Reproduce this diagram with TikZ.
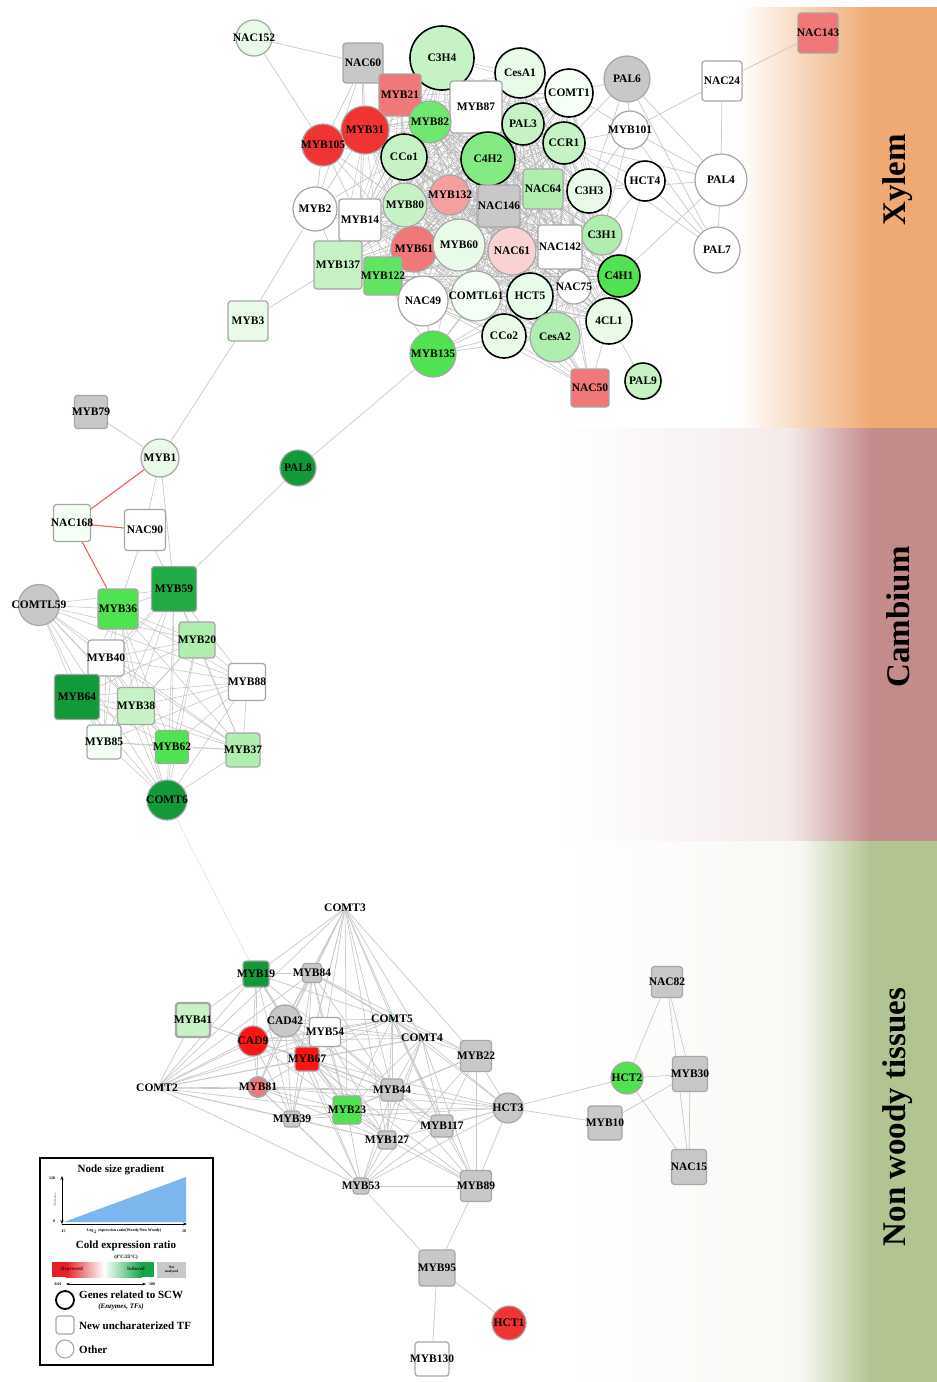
\documentclass[tikz,border=0pt]{standalone}
\usepackage{fontspec}
\setmainfont{Liberation Serif}
\usetikzlibrary{backgrounds,arrows.meta}
\definecolor{lgA}{RGB}{232,250,232}
\definecolor{lgB}{RGB}{198,242,198}
\definecolor{lgC}{RGB}{176,238,176}
\definecolor{mgA}{RGB}{110,232,110}
\definecolor{mgB}{RGB}{80,226,80}
\definecolor{dgA}{RGB}{17,153,58}
\definecolor{dgB}{RGB}{34,170,68}
\definecolor{rdA}{RGB}{240,52,52}
\definecolor{rdB}{RGB}{255,20,20}
\definecolor{pkA}{RGB}{240,120,120}
\definecolor{pkB}{RGB}{244,160,160}
\definecolor{pkC}{RGB}{249,210,210}
\definecolor{gyA}{RGB}{200,200,200}
\definecolor{wgA}{RGB}{246,255,246}
\definecolor{xyc}{RGB}{238,170,114}
\definecolor{cac}{RGB}{196,139,139}
\definecolor{nwc}{RGB}{178,196,144}
\definecolor{legblue}{RGB}{125,182,236}
\definecolor{redge}{RGB}{240,96,96}
\definecolor{barred}{RGB}{228,32,40}
\definecolor{bargreen}{RGB}{22,164,72}
\newcommand\nd[6]{\node[#1,minimum size=#4pt,fill=#5,label={[lab]center:#6}] (#2) at (#3) {};}
\tikzset{
 lab/.style={font=\bfseries\fontsize{11.5}{12}\selectfont, inner sep=0pt, text=black},
 cg/.style={circle, draw=gray!70, line width=1.2pt, inner sep=0pt},
 cb/.style={circle, draw=black, line width=1.6pt, inner sep=0pt},
 sg/.style={rectangle, rounded corners=3pt, draw=gray!70, line width=1.2pt, inner sep=0pt},
 pt/.style={circle, inner sep=0pt, minimum size=1pt},
 ed/.style={draw=gray!42, line width=0.7pt},
 ms/.style={draw=gray!58, line width=0.35pt},
 rd/.style={draw=redge, line width=1.1pt},
 band/.style={font=\bfseries\fontsize{33}{36}\selectfont, rotate=90, inner sep=0pt},
 tiny/.style={font=\bfseries\fontsize{4}{4.5}\selectfont, inner sep=0pt},
 leg/.style={font=\bfseries\fontsize{11}{12}\selectfont, inner sep=0pt},
}
\begin{document}
\begin{tikzpicture}[x=1pt,y=-1pt]
\useasboundingbox (0,0) rectangle (937,1382);
% ---------- nodes: Xylem ----------
\nd{cg}{NAC152}{254,38}{36}{lgA}{NAC152}
\nd{sg}{NAC60}{363,63}{40}{gyA}{NAC60}
\nd{cb}{C3H4}{442,58}{64}{lgB}{C3H4}
\nd{cb}{CesA1}{520,73}{50}{lgA}{CesA1}
\nd{cb}{COMT1}{569,93}{48}{wgA}{COMT1}
\nd{cg}{PAL6}{627,79}{46}{gyA}{PAL6}
\nd{sg}{NAC24}{722,81}{40}{white}{NAC24}
\nd{sg}{NAC143}{818,33}{40}{pkA}{NAC143}
\nd{sg}{MYB87}{476,107}{52}{white}{MYB87}
\nd{sg}{MYB21}{400,95}{42}{pkA}{MYB21}
\nd{cg}{MYB82}{430,122}{42}{mgA}{MYB82}
\nd{cg}{MYB31}{365,130}{48}{rdA}{MYB31}
\nd{cg}{MYB105}{323,145}{42}{rdA}{MYB105}
\nd{cb}{PAL3}{523,124}{42}{lgB}{PAL3}
\nd{cb}{CCR1}{564,143}{42}{lgB}{CCR1}
\nd{cg}{MYB101}{630,130}{38}{white}{MYB101}
\nd{cb}{CCo1}{404,157}{46}{lgB}{CCo1}
\nd{cb}{C4H2}{488,159}{54}{mgA!85!white}{C4H2}
\nd{cb}{HCT4}{645,181}{40}{white}{HCT4}
\nd{cg}{PAL4}{721,180}{52}{white}{PAL4}
\nd{sg}{NAC64}{543,189}{40}{lgC}{NAC64}
\nd{cb}{C3H3}{589,191}{44}{lgA}{C3H3}
\nd{cg}{MYB132}{450,195}{40}{pkB}{MYB132}
\nd{sg}{NAC146}{499,206}{42}{gyA}{NAC146}
\nd{cg}{MYB2}{315,209}{44}{white}{MYB2}
\nd{sg}{MYB14}{360,220}{42}{white}{MYB14}
\nd{cg}{MYB80}{405,205}{44}{lgB}{MYB80}
\nd{cg}{C3H1}{602,235}{40}{lgC}{C3H1}
\nd{cg}{PAL7}{717,250}{46}{white}{PAL7}
\nd{cg}{MYB61}{414,249}{46}{pkA}{MYB61}
\nd{cg}{MYB60}{459,245}{52}{lgA}{MYB60}
\nd{cg}{NAC61}{512,251}{48}{pkC}{NAC61}
\nd{sg}{NAC142}{560,247}{44}{white}{NAC142}
\nd{sg}{MYB137}{338,265}{48}{lgB}{MYB137}
\nd{sg}{MYB122}{383,276}{38}{mgB!90!white}{MYB122}
\nd{cb}{C4H1}{619,276}{42}{mgB}{C4H1}
\nd{cg}{NAC75}{574,287}{34}{white}{NAC75}
\nd{cg}{NAC49}{423,301}{50}{white}{NAC49}
\nd{cg}{COMTL61}{476,296}{50}{wgA}{COMTL61}
\nd{cb}{HCT5}{530,296}{46}{lgA}{HCT5}
\nd{cb}{CL41}{609,321}{46}{lgA}{4CL1}
\nd{cb}{CCo2}{504,336}{44}{lgA}{CCo2}
\nd{cg}{CesA2}{555,337}{50}{lgC}{CesA2}
\nd{sg}{MYB3}{248,321}{40}{lgA}{MYB3}
\nd{cg}{MYB135}{433,354}{46}{mgB}{MYB135}
\nd{sg}{NAC50}{590,388}{38}{pkA}{NAC50}
\nd{cb}{PAL9}{643,381}{36}{lgB}{PAL9}
% ---------- nodes: Cambium ----------
\nd{sg}{MYB79}{91,412}{33}{gyA}{MYB79}
\nd{cg}{MYB1}{160,458}{38}{lgA}{MYB1}
\nd{cg}{PAL8}{298,468}{36}{dgA}{PAL8}
\nd{sg}{NAC168}{72,523}{37}{wgA}{NAC168}
\nd{sg}{NAC90}{145,530}{41}{white}{NAC90}
\nd{sg}{MYB59}{174,589}{45}{dgB}{MYB59}
\nd{cg}{COMTL59}{39,605}{41}{gyA}{COMTL59}
\nd{sg}{MYB36}{118,609}{40}{mgB}{MYB36}
\nd{sg}{MYB20}{197,640}{36}{lgC}{MYB20}
\nd{sg}{MYB40}{106,658}{36}{white}{MYB40}
\nd{sg}{MYB88}{247,682}{37}{white}{MYB88}
\nd{sg}{MYB64}{77,697}{45}{dgA}{MYB64}
\nd{sg}{MYB38}{136,706}{37}{lgB}{MYB38}
\nd{sg}{MYB85}{104,742}{34}{wgA}{MYB85}
\nd{sg}{MYB62}{172,747}{33}{mgB}{MYB62}
\nd{sg}{MYB37}{243,750}{34}{lgC}{MYB37}
\nd{cg}{COMT6}{167,800}{40}{dgA}{COMT6}
% ---------- nodes: Non woody ----------
\node[pt,label={[lab]center:COMT3}] (COMT3) at (345,908) {};
\node[pt,label={[lab]center:COMT2}] (COMT2) at (157,1088) {};
\node[circle,inner sep=0pt,minimum size=4pt,fill=mgB,label={[lab]center:COMT5}] (COMT5) at (392,1019) {};
\node[pt,label={[lab]center:COMT4}] (COMT4) at (422,1038) {};
\nd{sg}{MYB19}{256,974}{26}{dgA}{MYB19}
\nd{sg}{MYB84}{312,973}{19}{gyA}{MYB84}
\node[sg,line width=2.2pt,minimum size=34pt,fill=lgB,label={[lab]center:MYB41}] (MYB41) at (193,1020) {};
\nd{cg}{CAD42}{285,1021}{32}{gyA}{CAD42}
\node[sg,minimum width=31pt,minimum height=29pt,fill=white,label={[lab]center:MYB54}] (MYB54) at (325,1032) {};
\nd{cg}{CAD9}{253,1041}{30}{rdB}{CAD9}
\nd{sg}{MYB67}{307,1059}{24}{rdB}{MYB67}
\node[cg,line width=2pt,minimum size=20pt,fill=pkA,label={[lab]center:MYB81}] (MYB81) at (258,1087) {};
\nd{sg}{MYB39}{292,1119}{16}{gyA}{MYB39}
\nd{sg}{MYB23}{347,1110}{28}{mgB}{MYB23}
\nd{sg}{MYB44}{392,1090}{22}{gyA}{MYB44}
\nd{sg}{MYB22}{476,1056}{31}{gyA}{MYB22}
\nd{cg}{HCT3}{508,1108}{30}{gyA}{HCT3}
\nd{sg}{MYB117}{442,1126}{22}{gyA}{MYB117}
\nd{sg}{MYB127}{387,1140}{18}{gyA}{MYB127}
\nd{sg}{MYB53}{361,1186}{16}{gyA}{MYB53}
\nd{sg}{MYB89}{476,1186}{31}{gyA}{MYB89}
\nd{sg}{MYB10}{605,1123}{34}{gyA}{MYB10}
\nd{cg}{HCT2}{627,1078}{32}{mgB}{HCT2}
\nd{sg}{NAC82}{667,982}{31}{gyA}{NAC82}
\nd{sg}{MYB30}{690,1074}{35}{gyA}{MYB30}
\nd{sg}{NAC15}{689,1167}{35}{gyA}{NAC15}
\nd{sg}{MYB95}{437,1268}{36}{gyA}{MYB95}
\nd{cg}{HCT1}{509,1323}{34}{rdA}{HCT1}
\nd{sg}{MYB130}{432,1359}{34}{white}{MYB130}
% ---------- background: bands and edges ----------
\begin{pgfonlayer}{background}
\fill[white] (0,0) rectangle (937,1382);
% Xylem band
\shade[left color=white,right color=xyc] (740,7) rectangle (872,428);
\fill[xyc] (871,7) rectangle (937,428);
% Cambium band
\shade[left color=white,right color=cac!18] (560,428) rectangle (790,841);
\shade[left color=cac!18,right color=cac] (789,428) rectangle (872,841);
\fill[cac] (871,428) rectangle (937,841);
% Non woody band
\shade[left color=white,right color=nwc!10] (560,841) rectangle (800,1382);
\shade[left color=nwc!10,right color=nwc] (799,841) rectangle (872,1382);
\fill[nwc] (871,841) rectangle (937,1382);
% Xylem dense mesh
\def\xcore{C3H4,MYB21,MYB87,MYB82,MYB31,CCo1,C4H2,PAL3,CCR1,CesA1,COMT1,NAC64,C3H3,MYB132,NAC146,MYB80,MYB14,C3H1,MYB61,MYB60,NAC61,NAC142,MYB122,C4H1,NAC75,NAC49,COMTL61,HCT5,CL41,CCo2,CesA2,MYB137}
\foreach \a [count=\i] in \xcore {
  \foreach \b [count=\j] in \xcore {
    \ifnum\j>\i \draw[ms] (\a) -- (\b); \fi
  }
}
\foreach \a/\b in {NAC152/NAC60,NAC152/MYB105,NAC60/MYB105,NAC60/MYB31,NAC60/MYB14,NAC60/MYB2,NAC60/MYB21,
  MYB2/MYB105,MYB2/MYB31,MYB2/MYB80,MYB2/MYB61,MYB2/MYB60,MYB2/CCo1,MYB14/MYB105,MYB105/CCo1,MYB105/MYB80,MYB105/MYB61,MYB105/MYB31,
  MYB3/MYB2,MYB3/MYB137,MYB3/MYB1,MYB137/MYB2,
  PAL8/MYB135,PAL8/MYB59,
  MYB135/NAC49,MYB135/COMTL61,MYB135/MYB60,MYB135/MYB61,MYB135/MYB122,MYB135/HCT5,MYB135/CCo2,MYB135/NAC61,MYB135/CesA2,MYB135/NAC75,
  NAC50/CesA2,NAC50/CCo2,NAC50/HCT5,NAC50/NAC75,NAC50/CL41,NAC50/NAC49,NAC50/COMTL61,NAC50/MYB60,NAC50/NAC61,NAC50/NAC142,
  PAL9/CL41,NAC143/NAC24,NAC24/MYB101,NAC24/PAL4,
  PAL6/MYB101,PAL6/PAL4,PAL6/PAL7,PAL6/CCR1,PAL6/COMT1,PAL6/C3H3,
  MYB101/CCR1,MYB101/C3H3,MYB101/PAL7,MYB101/PAL4,MYB101/COMT1,MYB101/C3H1,
  CCR1/HCT4,CCR1/PAL4,CCR1/PAL7,C3H3/PAL4,C3H3/HCT4,HCT4/C4H1,HCT4/C3H1,PAL4/C4H1,PAL4/PAL7,PAL7/HCT4}
  \draw[ed] (\a) -- (\b);
% Cambium
\foreach \a/\b in {MYB79/MYB1,MYB1/NAC90,MYB1/MYB59,NAC90/MYB36,NAC90/MYB59}
  \draw[ed] (\a) -- (\b);
\def\ccore{COMTL59,MYB36,MYB59,MYB20,MYB40,MYB88,MYB64,MYB38,MYB85,MYB62,MYB37,COMT6}
\foreach \a [count=\i] in \ccore {
  \foreach \b [count=\j] in \ccore {
    \ifnum\j>\i \draw[draw=gray!45,line width=0.55pt] (\a) -- (\b); \fi
  }
}
\draw[rd] (MYB1) -- (NAC168);
\draw[rd] (NAC168) -- (NAC90);
\draw[rd] (NAC168) -- (MYB36);
\draw[draw=gray!50,line width=0.6pt,densely dotted] (COMT6) -- (MYB19);
% Non woody
\foreach \a/\b in {COMT3/MYB19,COMT3/MYB84,COMT3/CAD42,COMT3/MYB54,COMT3/MYB67,COMT3/COMT5,COMT3/COMT4,COMT3/MYB44,COMT3/MYB23,COMT3/MYB127,COMT3/MYB117,COMT3/COMT2,COMT3/MYB81,COMT3/MYB39,COMT3/MYB22,
  COMT2/MYB19,COMT2/MYB84,COMT2/MYB41,COMT2/CAD42,COMT2/CAD9,COMT2/MYB54,COMT2/MYB67,COMT2/MYB81,COMT2/MYB39,COMT2/MYB23,COMT2/MYB44,COMT2/COMT5,COMT2/COMT4,COMT2/MYB127,COMT2/MYB53,
  MYB19/MYB84,MYB19/MYB41,MYB19/CAD42,MYB19/CAD9,MYB19/MYB54,MYB19/MYB67,MYB19/MYB81,MYB19/MYB39,MYB19/COMT5,MYB19/MYB23,
  MYB84/CAD42,MYB84/MYB54,MYB84/MYB67,MYB84/COMT5,MYB84/COMT4,MYB84/MYB81,MYB84/MYB39,MYB84/MYB23,MYB84/MYB44,MYB84/MYB22,
  MYB41/CAD9,MYB41/MYB67,
  CAD42/MYB54,CAD42/CAD9,CAD42/MYB67,CAD42/COMT5,CAD42/COMT4,CAD42/MYB81,CAD42/MYB39,CAD42/MYB23,CAD42/MYB44,CAD42/MYB127,CAD42/MYB53,
  MYB54/COMT5,MYB54/COMT4,MYB54/MYB67,MYB54/MYB44,MYB54/MYB23,MYB54/MYB117,MYB54/MYB127,
  CAD9/MYB67,CAD9/MYB54,CAD9/COMT5,CAD9/COMT4,CAD9/MYB81,CAD9/MYB39,CAD9/MYB23,CAD9/MYB44,
  MYB67/COMT4,MYB67/COMT5,MYB67/MYB81,MYB67/MYB39,MYB67/MYB23,MYB67/MYB44,MYB67/MYB117,MYB67/MYB127,MYB67/MYB53,MYB67/MYB89,MYB67/HCT3,
  MYB81/MYB39,MYB81/MYB23,MYB81/MYB44,MYB81/MYB127,MYB81/MYB53,MYB81/HCT3,
  COMT5/COMT4,COMT5/MYB44,COMT5/MYB22,COMT5/MYB23,COMT5/MYB117,COMT5/MYB127,COMT5/HCT3,COMT5/MYB89,
  COMT4/MYB22,COMT4/MYB44,COMT4/MYB23,COMT4/MYB117,COMT4/MYB127,COMT4/MYB53,COMT4/HCT3,COMT4/MYB89,
  MYB22/MYB44,MYB22/HCT3,MYB22/MYB89,MYB22/MYB117,MYB22/MYB53,MYB22/MYB23,
  MYB44/MYB23,MYB44/MYB127,MYB44/MYB117,MYB44/HCT3,MYB44/MYB89,MYB44/MYB53,
  MYB23/MYB39,MYB23/MYB127,MYB23/MYB117,MYB23/MYB53,MYB23/MYB89,MYB23/HCT3,
  MYB39/MYB127,MYB39/MYB53,MYB39/HCT3,MYB117/HCT3,MYB117/MYB89,MYB117/MYB53,
  MYB127/MYB53,MYB127/MYB89,MYB127/HCT3,MYB53/MYB89,MYB53/MYB95,MYB53/HCT3,MYB89/MYB95,MYB89/HCT3,
  HCT3/HCT2,HCT3/MYB10,MYB95/HCT1,MYB95/MYB130,HCT2/NAC82,HCT2/MYB30,HCT2/NAC15,MYB10/MYB30,NAC82/MYB30,NAC82/NAC15,MYB30/NAC15}
  \draw[ed] (\a) -- (\b);
\end{pgfonlayer}
% ---------- band labels ----------
\node[band] (lxy) at (898,180) {Xylem};
\node[band] (lca) at (898,617) {Cambium};
\node[band] (lnw) at (898,1117) {Non woody tissues};
% ---------- legend ----------
\node[draw=black,line width=1.3pt,minimum width=173pt,minimum height=207pt,inner sep=0pt] (legbox) at (126.5,1261.5) {};
\node[leg] (lgt1) at (121,1170) {Node size gradient};
\fill[legblue] (64,1222) -- (186,1222) -- (186,1177) -- cycle;
\draw[{Stealth[length=4pt]}-{Stealth[length=4pt]},line width=0.9pt] (62,1224) -- (62,1176);
\draw[-{Stealth[length=4pt]},line width=0.9pt] (62,1224) -- (187,1224);
\node[tiny] (l120) at (52,1178) {120};
\node[tiny] (l0) at (54,1221) {0};
\node[tiny,rotate=90,font=\fontsize{3.5}{4}\selectfont,text=brown!70!black] (lns) at (55,1200) {Node size};
\node[tiny] (lm15) at (63,1231) {-15};
\node[tiny] (llog) at (124,1231) {Log$_2$ expression ratio(Woody/Non Woody)};
\node[tiny] (l10) at (184,1231) {10};
\node[leg] (lgt2) at (126,1246) {Cold expression ratio};
\node[tiny,font=\bfseries\fontsize{5}{6}\selectfont] (ltemp) at (126,1257) {(4°C/25°C)};
\fill[barred] (52,1262) rectangle (66,1277);
\shade[left color=barred,right color=white] (66,1262) rectangle (104,1277);
\shade[left color=white,right color=bargreen] (104,1262) rectangle (142,1277);
\fill[bargreen] (141.5,1262) rectangle (154,1277);
\node[tiny,font=\bfseries\fontsize{5}{6}\selectfont,text=red!40!black] (lrep) at (72,1269) {Repressed};
\node[tiny,font=\bfseries\fontsize{5}{6}\selectfont,text=black!80!green] (lind) at (136,1269) {Induced};
\node[fill=gyA,minimum width=29pt,minimum height=16pt,inner sep=0pt,align=center,font=\bfseries\fontsize{3.5}{4.2}\selectfont] (lna) at (171.5,1270) {Not\\analyzed};
\draw[{Stealth[length=3.5pt]}-{Stealth[length=3.5pt]},line width=0.8pt] (66,1284) -- (146,1284);
\node[tiny] (l001) at (58,1284) {0.01};
\node[tiny] (l100) at (152,1284) {100};
\node[circle,draw=black,line width=1.8pt,minimum size=18pt,inner sep=0pt] (lc1) at (65,1300) {};
\node[leg,anchor=west] (lt1) at (79,1295) {Genes related to SCW};
\node[font=\bfseries\itshape\fontsize{7}{8}\selectfont,inner sep=0pt] (lt1b) at (121,1307) {(Enzymes, TFs)};
\node[rectangle,rounded corners=3pt,draw=gray!70,line width=1.1pt,minimum size=18pt,inner sep=0pt] (lc2) at (65,1325) {};
\node[leg,anchor=west] (lt2) at (79,1326) {New uncharaterized TF};
\node[circle,draw=gray!70,line width=1.1pt,minimum size=18pt,inner sep=0pt] (lc3) at (65,1349) {};
\node[leg,anchor=west] (lt3) at (79,1350) {Other};
\end{tikzpicture}
\end{document}
